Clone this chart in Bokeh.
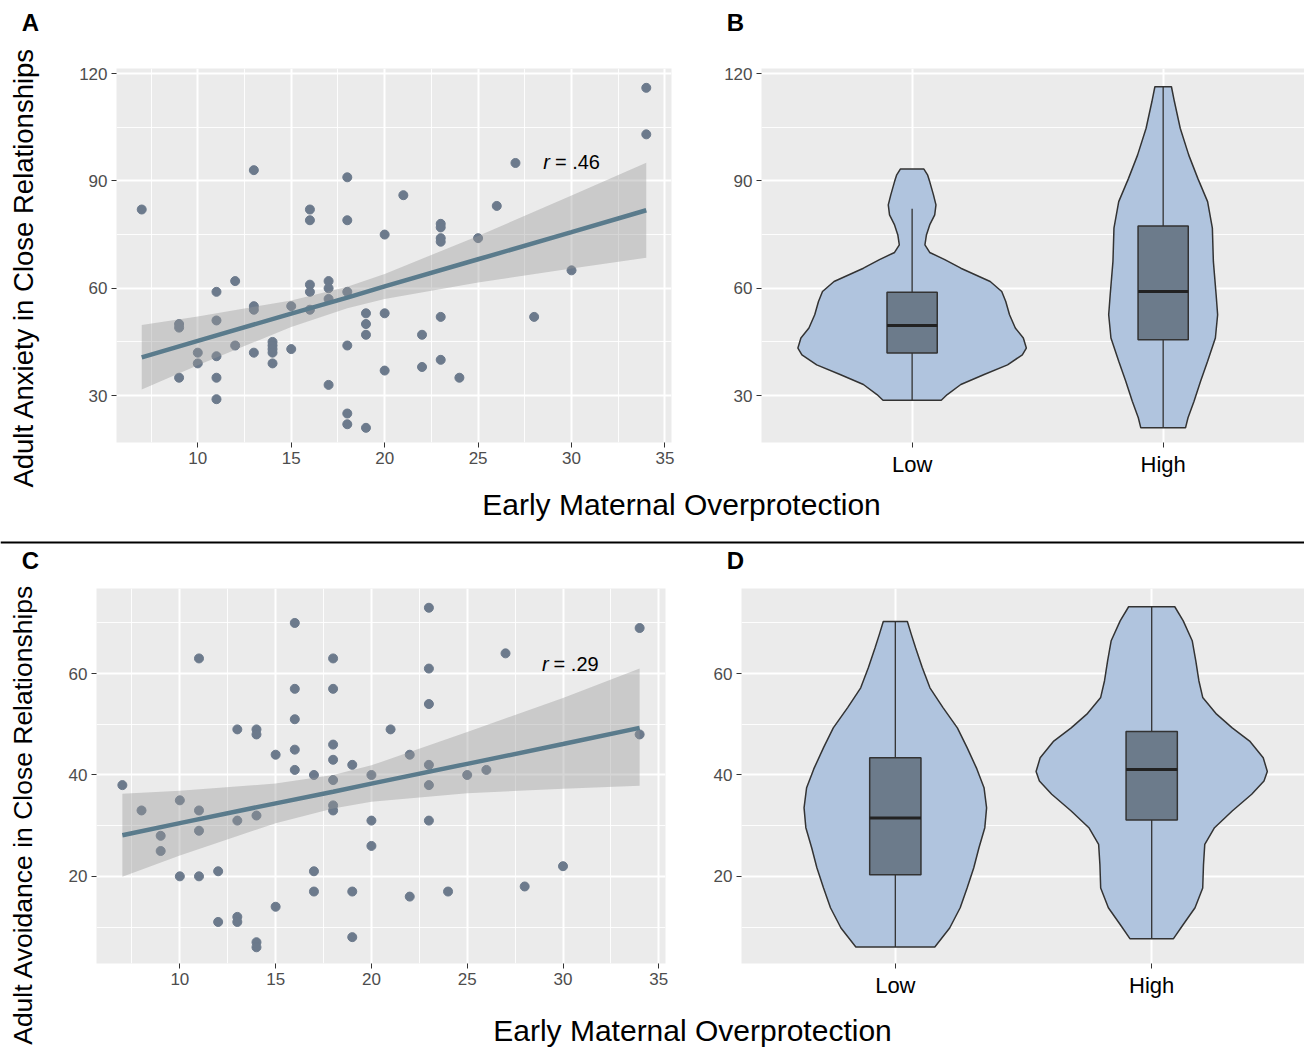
import math
from bokeh.plotting import figure
from bokeh.models import Range1d, FixedTicker, Label, Span, ColumnDataSource
from bokeh.layouts import row, column
from bokeh.embed import file_html
from bokeh.resources import INLINE

# ---------------- data ----------------
# Panel A: overprotection vs anxiety
anx_x = [7, 13, 18, 18, 16, 16, 21, 26, 27, 34, 34, 20, 23, 23, 23, 23, 25, 30, 28, 23, 22, 22, 23, 24,
         20, 20, 19, 19, 19, 19, 18, 18, 18, 18, 17, 17, 17, 17, 16, 16, 16, 15, 15, 14, 14, 14, 14, 14,
         13, 13, 13, 12, 12, 11, 11, 11, 11, 11, 10, 10, 9, 9, 9]
anx_y = [82, 93, 91, 79, 82, 79, 86, 83, 95, 116, 103, 75, 78, 77, 74, 73, 74, 65, 52, 52, 47, 38, 40, 35,
         53, 37, 53, 50, 47, 21, 25, 22, 44, 59, 62, 60, 57, 33, 61, 59, 54, 55, 43, 45, 44, 43, 42, 39,
         55, 54, 42, 62, 44, 59, 51, 41, 35, 29, 42, 39, 50, 49, 35]
anx_fit_x = [7, 10, 15, 18, 20, 25, 30, 34]
anx_fit_y = [40.7, 45.3, 52.9, 57.4, 60.5, 68.1, 75.7, 81.8]
anx_fit_lo = [31.7, 38.5, 49.2, 54.4, 57.0, 61.6, 65.5, 68.5]
anx_fit_hi = [49.7, 52.1, 56.6, 60.4, 64.0, 74.6, 85.9, 95.1]
anx_r = "= .46"

# Panel C: overprotection vs avoidance
avo_x = [7, 8, 9, 9, 10, 10, 11, 11, 11, 11, 12, 12, 13, 13, 13, 13, 14, 14, 14, 14, 14, 15, 15,
         16, 16, 16, 16, 16, 17, 17, 17, 18, 18, 18, 18, 18, 18, 18, 19, 19, 19, 20, 20, 20, 21, 22,
         22, 23, 23, 23, 23, 23, 23, 24, 25, 26, 27, 28, 30, 34, 34]
avo_y = [38, 33, 28, 25, 35, 20, 63, 33, 29, 20, 21, 11, 49, 31, 12, 11, 49, 48, 32, 7, 6, 44, 14,
         70, 57, 51, 45, 41, 40, 21, 17, 63, 57, 46, 43, 39, 34, 33, 42, 17, 8, 40, 31, 26, 49, 44,
         16, 73, 61, 54, 42, 38, 31, 17, 40, 41, 64, 18, 22, 69, 48]
avo_fit_x = [7, 10, 15, 18, 20, 25, 30, 34]
avo_fit_y = [28.1, 30.5, 34.4, 36.7, 38.3, 42.2, 46.1, 49.3]
avo_fit_lo = [19.9, 24.1, 30.5, 33.4, 34.7, 36.4, 37.3, 37.9]
avo_fit_hi = [36.3, 36.9, 38.3, 40.0, 41.9, 48.5, 55.2, 61.0]
avo_r = "= .29"

groups = ["Low", "High"]

# Panel B violins (anxiety by group): y level, half-width (category units)
b_low_y = [28.7, 30.3, 33.1, 35.9, 38.6, 41.4, 43.3, 46.1, 48.9, 52.6, 56.3, 59.1, 61.9, 65.6, 68.0,
           70.0, 72.1, 74.9, 77.7, 80.5, 83.3, 86.1, 89.8, 91.6, 93.3]
b_low_w = [0.116, 0.140, 0.194, 0.287, 0.380, 0.439, 0.455, 0.443, 0.411, 0.388, 0.373, 0.357, 0.311,
           0.194, 0.130, 0.070, 0.051, 0.057, 0.070, 0.090, 0.095, 0.085, 0.070, 0.062, 0.047]
b_high_y = [21.0, 23.8, 28.4, 34.0, 39.6, 46.1, 52.6, 58.2, 67.5, 76.8, 84.2, 90.7, 97.2, 104.7, 112.1, 116.3]
b_high_w = [0.089, 0.099, 0.123, 0.149, 0.177, 0.208, 0.217, 0.211, 0.200, 0.196, 0.177, 0.138, 0.102,
            0.068, 0.045, 0.033]
b_lo = [28.7, 21.0]
b_q1 = [41.9, 45.6]
b_med = [49.6, 59.1]
b_q3 = [58.9, 77.4]
b_hi = [82.2, 116.3]

# Panel D violins (avoidance by group)
d_low_y = [6.05, 9.8, 13.8, 17.7, 21.7, 25.6, 29.6, 33.5, 37.5, 41.2, 45.4, 49.3, 53.3, 57.2, 61.2,
           65.1, 67.8, 70.3]
d_low_w = [0.154, 0.212, 0.253, 0.280, 0.306, 0.326, 0.349, 0.356, 0.346, 0.318, 0.280, 0.242, 0.186,
           0.135, 0.105, 0.079, 0.062, 0.047]
d_high_y = [7.7, 10.5, 13.8, 17.7, 22.3, 26.3, 29.6, 32.9, 36.2, 38.8, 40.7, 43.4, 46.7, 49.3, 52.0,
            55.3, 58.6, 62.5, 66.5, 70.4, 73.2]
d_high_w = [0.085, 0.123, 0.169, 0.199, 0.202, 0.207, 0.245, 0.314, 0.390, 0.438, 0.451, 0.435, 0.382,
            0.314, 0.253, 0.199, 0.184, 0.172, 0.158, 0.123, 0.090]
d_lo = [6.05, 7.7]
d_q1 = [20.3, 31.1]
d_med = [31.5, 41.1]
d_q3 = [43.4, 48.6]
d_hi = [70.3, 73.2]

x_ticks = [10, 15, 20, 25, 30, 35]
anx_ticks = [30, 60, 90, 120]
avo_ticks = [20, 40, 60]

# ---------------- styling helpers ----------------
FONT = "Liberation Sans"
PANEL_BG = "#EBEBEB"
POINT = "#6C7A8C"
LINE = "#5A7B8C"
VIOLIN = "#B0C4DE"
BOX = "#6C7B8B"
EDGE = "#333333"


def style(p, xt, xminor, yt, yminor):
    p.xaxis.ticker = FixedTicker(ticks=xt, minor_ticks=xminor)
    p.yaxis.ticker = FixedTicker(ticks=yt, minor_ticks=yminor)
    for ax in p.axis:
        ax.axis_line_color = None
        ax.major_tick_line_color = EDGE
        ax.major_tick_out = 5
        ax.major_tick_in = 0
        ax.minor_tick_line_color = None
        ax.major_label_text_font = FONT
        ax.major_label_text_font_size = "17px"
        ax.major_label_text_color = "#4D4D4D"
        ax.major_label_standoff = 4
    p.grid.grid_line_color = "white"
    p.grid.grid_line_width = 2
    p.grid.minor_grid_line_color = "white"
    p.grid.minor_grid_line_width = 0.9


def make_plot(w, h, xr, yr, bl, br, bt, bb):
    p = figure(width=w, height=h, x_range=xr, y_range=yr, toolbar_location=None,
               output_backend="svg", min_border_left=bl, min_border_right=br,
               min_border_top=bt, min_border_bottom=bb, background_fill_color=PANEL_BG,
               border_fill_color="white", outline_line_color=None)
    return p


def scatter_panel(p, xs, ys, fx, fy, flo, fhi, r_text, rx, ry):
    p.scatter(x=xs, y=ys, size=9, fill_color=POINT, line_color=POINT)
    p.varea(x=fx, y1=flo, y2=fhi, fill_color="#999999", fill_alpha=0.4)
    p.line(x=fx, y=fy, line_color=LINE, line_width=4.5)
    p.add_layout(Label(x=rx, y=ry, text="r", text_font=FONT, text_font_style="italic",
                       text_font_size="20px", text_align="right", text_baseline="middle",
                       x_offset=-24, text_color="black"))
    p.add_layout(Label(x=rx, y=ry, text=r_text, text_font=FONT, text_font_size="20px",
                       text_align="left", text_baseline="middle", x_offset=-19, text_color="black"))


def violin_panel(p, vdata, lo, q1, med, q3, hi):
    for c, (vy, vw) in zip([1, 2], vdata):
        xs = [c - w for w in vw] + [c + w for w in reversed(vw)]
        ys = list(vy) + list(reversed(vy))
        p.patch(xs, ys, fill_color=VIOLIN, line_color=EDGE, line_width=1.5)
    src = ColumnDataSource(dict(c=[1, 2], l=[0.9, 1.9], r=[1.1, 2.1], lo=lo, q1=q1, med=med, q3=q3, hi=hi))
    p.segment(x0="c", y0="lo", x1="c", y1="hi", source=src, line_color=EDGE, line_width=1.3)
    p.quad(left="l", right="r", bottom="q1", top="q3", source=src, fill_color=BOX,
           line_color=EDGE, line_width=1.5)
    p.segment(x0="l", y0="med", x1="r", y1="med", source=src, line_color="#222222", line_width=3)
    p.xaxis.major_label_overrides = {1: groups[0], 2: groups[1]}
    p.xaxis.major_label_text_color = "black"
    p.xaxis.major_label_text_font_size = "22px"


def text_fig(w, h):
    p = figure(width=w, height=h, x_range=Range1d(0, w), y_range=Range1d(0, h),
               x_axis_type=None, y_axis_type=None, toolbar_location=None,
               output_backend="svg", min_border=0, outline_line_color=None,
               background_fill_color="white", border_fill_color="white")
    return p


def txt(p, x, y, text, size, bold=False, angle=0.0):
    p.add_layout(Label(x=x, y=y, text=text, text_font=FONT, text_font_size=size,
                       text_font_style="bold" if bold else "normal", text_align="center",
                       text_baseline="middle", angle=angle, text_color="black"))


x_minor = [7.5, 12.5, 17.5, 22.5, 27.5, 32.5]

# ---------------- Panel A ----------------
pA = make_plot(655, 437, Range1d(5.65, 35.35), Range1d(16.9, 121.4), 71, 29, 20, 43)
style(pA, x_ticks, x_minor, anx_ticks, [45, 75, 105])
scatter_panel(pA, anx_x, anx_y, anx_fit_x, anx_fit_y, anx_fit_lo, anx_fit_hi, anx_r, 30.13, 95.4)

# ---------------- Panel B ----------------
pB = make_plot(604, 437, Range1d(0.4, 2.563), Range1d(16.9, 121.4), 61, 0, 20, 43)
style(pB, [1, 2], [], anx_ticks, [45, 75, 105])
pB.xgrid.minor_grid_line_color = None
violin_panel(pB, [(b_low_y, b_low_w), (b_high_y, b_high_w)], b_lo, b_q1, b_med, b_q3, b_hi)

# ---------------- Panel C ----------------
pC = make_plot(660, 430, Range1d(5.65, 35.35), Range1d(2.8, 76.8), 51, 40, 10, 45)
style(pC, x_ticks, x_minor, avo_ticks, [10, 30, 50, 70])
scatter_panel(pC, avo_x, avo_y, avo_fit_x, avo_fit_y, avo_fit_lo, avo_fit_hi, avo_r, 30.5, 62.0)

# ---------------- Panel D ----------------
pD = make_plot(599, 430, Range1d(0.4, 2.596), Range1d(2.8, 76.8), 36, 0, 10, 45)
style(pD, [1, 2], [], avo_ticks, [10, 30, 50, 70])
pD.xgrid.minor_grid_line_color = None
violin_panel(pD, [(d_low_y, d_low_w), (d_high_y, d_high_w)], d_lo, d_q1, d_med, d_q3, d_hi)

# ---------------- text strips ----------------
headTop = text_fig(1304, 48)
txt(headTop, 30, 26, "A", "24px", bold=True)
txt(headTop, 735, 26, "B", "24px", bold=True)

stripA = text_fig(45, 487)
txt(stripA, 22.5, 268, "Adult Anxiety in Close Relationships", "27.5px", angle=math.pi / 2)

titleTop = text_fig(1259, 50)
txt(titleTop, 636, 31, "Early Maternal Overprotection", "30px")

sep = text_fig(1304, 10)
sep.add_layout(Span(location=5, dimension="width", line_color="black", line_width=2))

headBot = text_fig(1304, 33)
txt(headBot, 30, 18, "C", "24px", bold=True)
txt(headBot, 735, 18, "D", "24px", bold=True)

stripC = text_fig(45, 471)
txt(stripC, 22.5, 235, "Adult Avoidance in Close Relationships", "26.5px", angle=math.pi / 2)

titleBot = text_fig(1259, 41)
txt(titleBot, 647, 19, "Early Maternal Overprotection", "30px")

layout = column(
    headTop,
    row(stripA, column(row(pA, pB), titleTop)),
    sep,
    headBot,
    row(stripC, column(row(pC, pD), titleBot)),
)

open("out.html", "w").write(file_html(layout, INLINE))
